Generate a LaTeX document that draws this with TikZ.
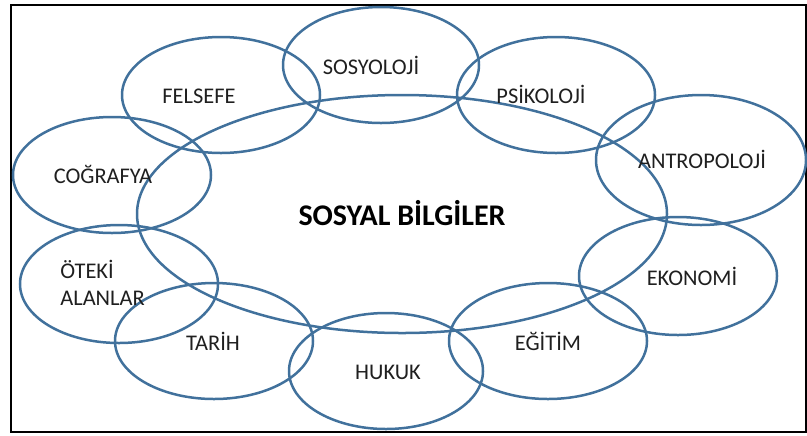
\documentclass[tikz,border=0pt]{standalone}
\usepackage{fontspec}
\setmainfont{Carlito}
\usetikzlibrary{shapes.geometric}
\definecolor{ringblue}{HTML}{41719C}
\begin{document}
\begin{tikzpicture}[x=0.5pt,y=-0.5pt,
	ring/.style={ellipse,draw=ringblue,line width=1.25pt,inner sep=0pt},
	lbl/.style={anchor=base,inner sep=0pt,text=black!88,font=\fontsize{11.2}{13.5}\selectfont}]
			\useasboundingbox (0,0) rectangle (807,435);
			\draw[line width=1.3pt] (11,5) rectangle (806,432);
			% center and rings round it
			\node[ring,minimum width=265pt,minimum height=119pt] (bilgiler) at (402,214) {};
			\foreach \x/\y/\rx/\ry/\n in {381/65/98/58/sosyoloji,221/95/99/58/felsefe,556/95/99/58/psikoloji,
				701/160/105/65/antropoloji,112/175/99/58/cografya,119/284/99/59/oteki,214/341/99/58/tarih,
				386/371/97/58/hukuk,548/341/99/58/egitim,678/276/99/59/ekonomi}
			\node[ring,minimum width=\rx pt,minimum height=\ry pt] (\n) at (\x,\y) {};
			% labels
			\node[lbl,font=\fontsize{15}{18}\selectfont\bfseries,text=black] (tbilgiler) at (402,225) {SOSYAL BİLGİLER};
			\node[lbl] (tsosyoloji) at (371,74) {SOSYOLOJİ};
			\node[lbl] (tfelsefe) at (199,103) {FELSEFE};
			\node[lbl] (tpsikoloji) at (541,103) {PSİKOLOJİ};
			\node[lbl] (tantropoloji) at (702,168) {ANTROPOLOJİ};
			\node[lbl] (tcografya) at (103,183) {COĞRAFYA};
			\node[lbl,anchor=base west] (toteki) at (60,278) {ÖTEKİ};
			\node[lbl,anchor=base west] (talanlar) at (60,305) {ALANLAR};
			\node[lbl] (ttarih) at (213,350) {TARİH};
			\node[lbl] (thukuk) at (388,379) {HUKUK};
			\node[lbl] (tegitim) at (548,350) {EĞİTİM};
			\node[lbl] (tekonomi) at (692,285) {EKONOMİ};
		\end{tikzpicture}
\end{document}
